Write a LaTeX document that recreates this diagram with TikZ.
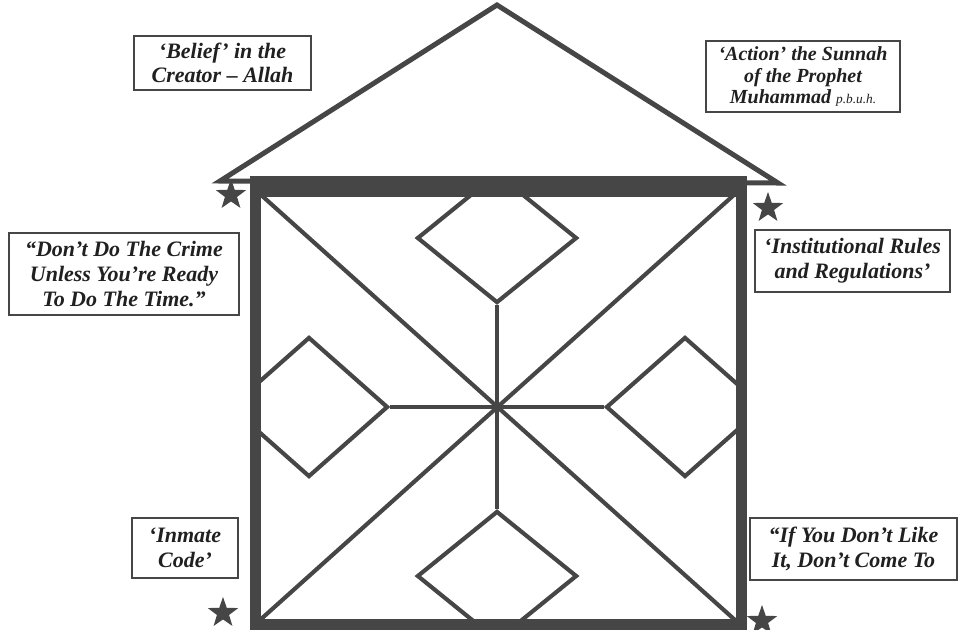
\documentclass[tikz,border=0pt]{standalone}
\usepackage{fontspec}
\setmainfont{Liberation Serif}
\usetikzlibrary{positioning,shapes.geometric}
\definecolor{ink}{HTML}{464646}
\definecolor{textink}{HTML}{202020}

\begin{document}
\begin{tikzpicture}[
  x=0.75pt, y=-0.75pt,
  rule/.style={draw=ink, line width=3.1pt},
  gem/.style={diamond, draw=ink, line width=3.1pt, inner sep=0pt},
  note/.style={draw=ink, line width=1.4pt, align=center, inner sep=0pt, text=textink,
    font=\fontsize{16.5}{18.5}\selectfont\bfseries\itshape},
  badge/.style={star, star points=5, star point ratio=2.5, fill=ink, minimum size=24pt, inner sep=0pt}
]
  \path[use as bounding box, fill=white] (0,0) rectangle (959,629);

  % roof
  \draw[ink, line width=3.75pt, line join=miter] (220,181) -- (497,5) -- (778,183) -- cycle;

  % pattern inside the frame
  \begin{scope}
    \clip (255.5,186) rectangle (741.5,624.5);
    \coordinate (hub) at (497,407);
    \coordinate (tl) at (260,194);
    \coordinate (tr) at (735,194);
    \coordinate (bl) at (260,620);
    \coordinate (br) at (735,620);
    \draw[rule] (tl) -- (br);
    \draw[rule] (tr) -- (bl);

    \node[gem, minimum width=120pt, minimum height=97.5pt] (gem-n) at (497,238) {};
    \node[gem, minimum width=120pt, minimum height=97.5pt] (gem-s) at (497,576) {};
    \node[gem, minimum width=118.5pt, minimum height=105pt] (gem-w) at (309,407) {};
    \node[gem, minimum width=118.5pt, minimum height=105pt] (gem-e) at (685,407) {};

    \draw[rule] (hub) -- (gem-n.south);
    \draw[rule] (hub) -- (gem-s.north);
    \draw[rule] (hub) -- (gem-w.east);
    \draw[rule] (hub) -- (gem-e.west);
  \end{scope}

  % frame
  \draw[ink, line width=8.25pt] (255.5,186) rectangle (741.5,624.5);
  \fill[ink] (250,176) rectangle (747,197);

  \foreach \sx/\sy [count=\i] in {231/195, 768/208, 223/613, 762/621}
    \node[badge] (corner-\i) at (\sx,\sy) {};

  % labels
  \node[note, minimum width=132.75pt, minimum height=40.5pt] (belief) at (222.5,63)
    {‘Belief’ in the\\Creator – Allah};
  \node[note, minimum width=145.5pt, minimum height=53.25pt,
    font=\fontsize{15}{16.2}\selectfont\bfseries\itshape] (action) at (803,76.5)
    {‘Action’ the Sunnah\\of the Prophet\\Muhammad {\fontsize{10}{12}\selectfont\mdseries p.b.u.h.}};
  \node[note, minimum width=172.5pt, minimum height=61.5pt] (crime) at (124,274)
    {“Don’t Do The Crime\\Unless You’re Ready\\To Do The Time.”};
  \node[note, minimum width=146.25pt, minimum height=46.5pt] (rules) at (852.5,261)
    {‘Institutional Rules\\and Regulations’};
  \node[note, minimum width=79.5pt, minimum height=45pt] (code) at (185,548)
    {‘Inmate\\Code’};
  \node[note, minimum width=155.25pt, minimum height=46.5pt] (like) at (853.5,549)
    {“If You Don’t Like\\It, Don’t Come To};
\end{tikzpicture}
\end{document}
